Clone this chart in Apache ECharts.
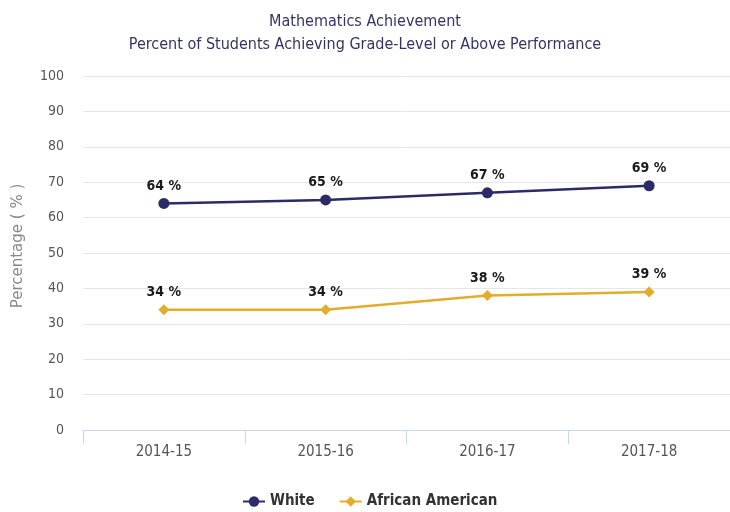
<!DOCTYPE html>
<html>
<head>
<meta charset="utf-8">
<script src="https://cdn.jsdelivr.net/npm/echarts@6/dist/echarts.min.js"></script>
<style>
  html, body { margin: 0; padding: 0; background: #ffffff; }
  #chart { width: 730px; height: 512px; }
</style>
</head>
<body>
<div id="chart"></div>
<script>
// School years on the category axis
const years = ['2014-15', '2015-16', '2016-17', '2017-18'];
// Percent of students at or above grade level, by group
const whiteValues = [64, 65, 67, 69];
const africanAmericanValues = [34, 34, 38, 39];
// Value axis ticks
const yTicks = [0, 10, 20, 30, 40, 50, 60, 70, 80, 90, 100];

const FONT = '"DejaVu Sans Condensed", "DejaVu Sans", sans-serif';
const FONT_WIDE = '"DejaVu Sans", sans-serif';

const chart = echarts.init(document.getElementById('chart'), null, { renderer: 'canvas' });

const labelStyle = {
  show: true,
  position: 'top',
  distance: 5,
  formatter: p => p.value + ' %',
  fontFamily: FONT,
  fontSize: 14,
  fontWeight: 'bold',
  color: '#1a1a1a'
};

chart.setOption({
  animation: false,
  backgroundColor: '#ffffff',
  title: {
    text: 'Mathematics Achievement\nPercent of Students Achieving Grade-Level or Above Performance',
    left: 'center',
    top: 5,
    textStyle: {
      fontFamily: FONT,
      fontSize: 16,
      fontWeight: 'normal',
      color: '#333366',
      lineHeight: 23
    }
  },
  legend: {
    bottom: -2,
    left: 237,
    itemWidth: 22,
    itemHeight: 13,
    itemGap: 24,
    textStyle: {
      fontFamily: FONT,
      fontSize: 15,
      fontWeight: 'bold',
      color: '#333333'
    },
    data: ['White', 'African American']
  },
  grid: {
    left: 83,
    right: -5,
    top: 76,
    bottom: 82,
    containLabel: false
  },
  xAxis: {
    type: 'category',
    data: years,
    boundaryGap: true,
    axisLine: { lineStyle: { color: '#ccd6eb', width: 1 } },
    axisTick: { show: true, alignWithLabel: false, length: 14, lineStyle: { color: '#ccd6eb' } },
    axisLabel: {
      margin: 15,
      fontFamily: FONT,
      fontSize: 15,
      color: '#555555'
    },
    splitLine: { show: false }
  },
  yAxis: {
    type: 'value',
    min: yTicks[0],
    max: yTicks[yTicks.length - 1],
    interval: yTicks[1] - yTicks[0],
    name: 'Percentage ( % )',
    nameLocation: 'middle',
    nameGap: 57,
    nameRotate: 90,
    nameTextStyle: {
      fontFamily: FONT_WIDE,
      fontSize: 15,
      color: '#888888',
      padding: [0, 0, 0, 14]
    },
    axisLine: { show: false },
    axisTick: { show: false },
    axisLabel: {
      margin: 19,
      fontFamily: FONT,
      fontSize: 14,
      color: '#555555'
    },
    splitLine: {
      show: true,
      lineStyle: { color: '#e6e6e6', width: 1 },
      showMinLine: false
    }
  },
  series: [
    {
      name: 'White',
      type: 'line',
      data: whiteValues,
      symbol: 'circle',
      symbolSize: 11,
      color: '#2b2c67',
      lineStyle: { width: 2.5, color: '#2b2c67' },
      itemStyle: { color: '#2b2c67' },
      label: labelStyle
    },
    {
      name: 'African American',
      type: 'line',
      data: africanAmericanValues,
      symbol: 'diamond',
      symbolSize: 11,
      color: '#e2ad2c',
      lineStyle: { width: 2.5, color: '#e2ad2c' },
      itemStyle: { color: '#e2ad2c' },
      label: labelStyle
    }
  ]
});
</script>
</body>
</html>
